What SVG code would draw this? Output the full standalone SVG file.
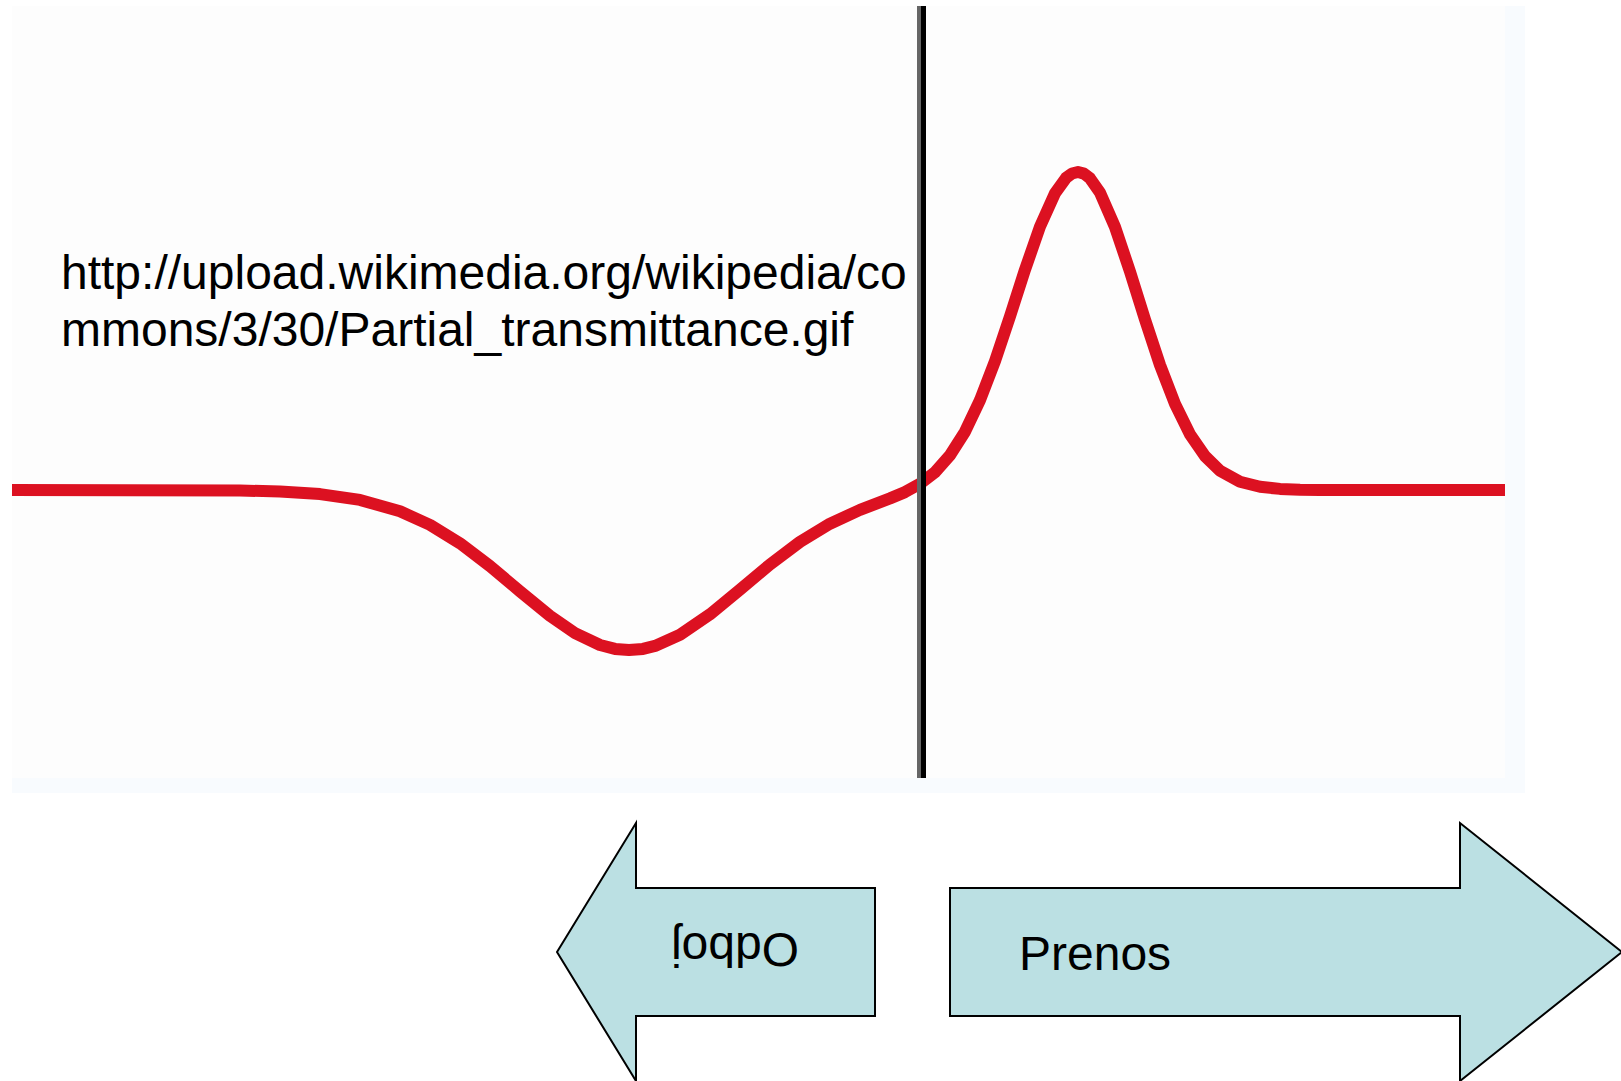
<svg xmlns="http://www.w3.org/2000/svg" width="1621" height="1081" viewBox="0 0 1621 1081">
  <style>
    .lbl { font-family: "Liberation Sans", Arial, sans-serif; font-size: 48px; fill: #000000; }
    .blk { fill: #bbe0e3; stroke: #000000; stroke-width: 2; stroke-linejoin: miter; }
    .curve { fill: none; stroke: #dc1121; stroke-width: 12; stroke-linejoin: round; stroke-linecap: butt; }
  </style>
  <rect x="0" y="0" width="1621" height="1081" fill="#ffffff"/>
  <g id="panel">
    <rect x="12" y="6" width="1513" height="787" fill="#f8fbfe"/>
    <rect x="12" y="6" width="1493" height="772" fill="#fdfdfd"/>
  </g>
  <g id="wave">
    <polyline class="curve" points="12,490 240,490.5 280,491.5 320,494.1 360,499.9 400,511.3 430,524.9 460,543.3 490,566.1 520,591.3 550,615.9 575,633.1 600,645 615,648.9 629,650 643,648.9 655,645.9 680,634.8 710,614.3 740,589.6 770,564.5 800,541.9 830,523.7 860,509.9 890,498.4 905,492.1 920,483.8 935,472.2 950,455.3 965,431.7 980,400.2 995,361.1 1010,316.3 1025,269.7 1040,226.6 1055,193.2 1066,177.9 1072,173.5 1078,172 1084,173.6 1090,178.3 1100,192.7 1115,227 1130,271.6 1145,319.5 1160,365 1175,403.9 1190,434.3 1205,456.1 1220,470.7 1240,481.7 1260,486.8 1280,488.9 1300,489.7 1320,490 1505,490"/>
  </g>
  <g id="boundary">
    <rect x="917" y="6" width="4" height="772" fill="#666666"/>
    <rect x="921" y="6" width="5" height="772" fill="#000000"/>
  </g>
  <g id="source-note">
    <text class="lbl" x="61" y="289">http://upload.wikimedia.org/wikipedia/co</text>
    <text class="lbl" x="61" y="346">mmons/3/30/Partial_transmittance.gif</text>
  </g>
  <g id="odboj">
    <polygon class="blk" points="557,952 636,823 636,888 875,888 875,1016 636,1016 636,1081"/>
    <text class="lbl" text-anchor="middle" transform="translate(735,933) rotate(180)">Odboj</text>
  </g>
  <g id="prenos">
    <polygon class="blk" points="950,888 1460,888 1460,823 1622,952 1460,1081 1460,1016 950,1016"/>
    <text class="lbl" x="1019" y="970">Prenos</text>
  </g>
  <g id="connectors"/>
</svg>
